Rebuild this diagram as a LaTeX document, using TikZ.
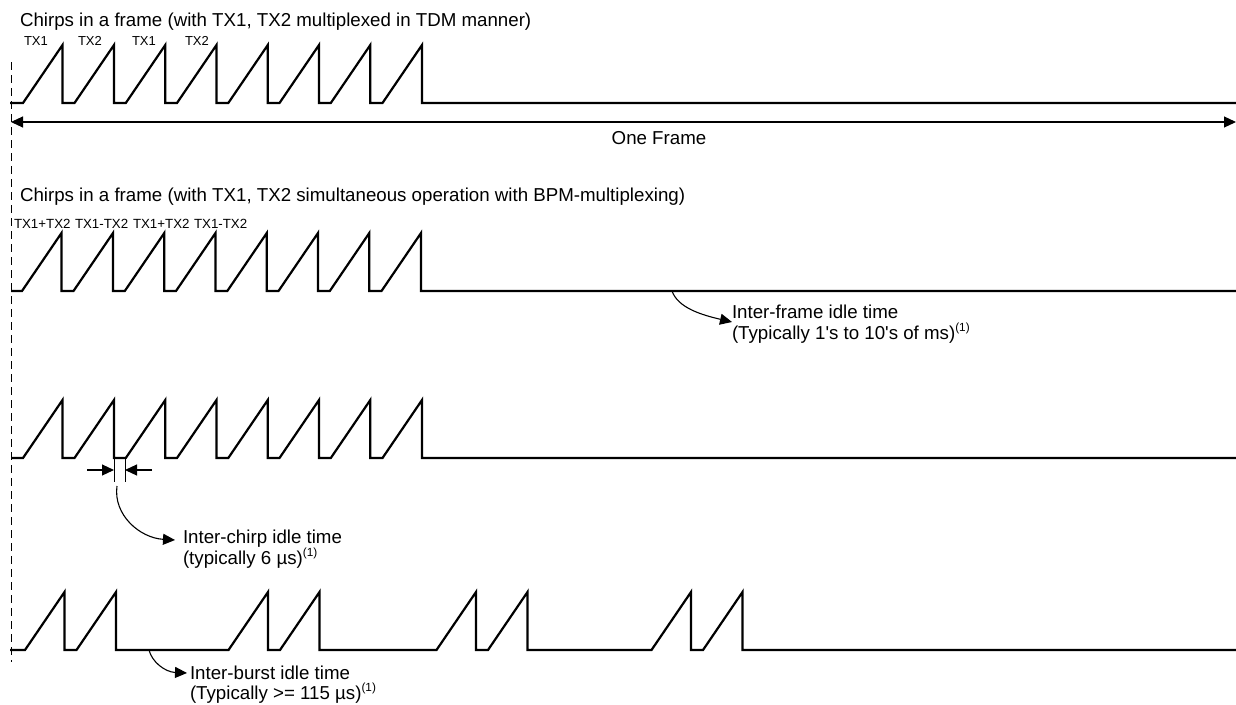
\documentclass[tikz,border=0pt]{standalone}
\usepackage{fontspec}
\newfontfamily\plainf{Liberation Sans}
\setmainfont{Liberation Sans}
\usetikzlibrary{arrows.meta}
\newcommand{\supone}{\raisebox{7.5pt}{\fontsize{11.8}{13}\selectfont (1)}}
\newcommand{\chirps}[4]{% start x, base y, top y, list of peak x
  \draw[wave] (#1,#2) foreach \p in {#4} { -- (\p-39.5,#2) -- (\p,#3) -- (\p,#2) } -- (1236,#2);
}
\tikzset{
  wave/.style={line width=2.2pt,line join=miter,line cap=butt},
  head/.style={-{Triangle[length=12pt,width=11pt]},line width=1.1pt},
  heads/.style={{Triangle[length=12pt,width=11pt]}-{Triangle[length=12pt,width=11pt]},line width=1.1pt},
  lbl/.style={anchor=base west,inner sep=0pt,outer sep=0pt,font=\plainf\fontsize{18.7}{22}\selectfont},
  tx/.style={anchor=base west,inner sep=0pt,outer sep=0pt,font=\plainf\fontsize{13}{15}\selectfont},
  txb/.style={anchor=base west,inner sep=0pt,outer sep=0pt,font=\plainf\fontsize{13.3}{15}\selectfont},
}
\begin{document}
\begin{tikzpicture}[x=1pt,y=-1pt]
\useasboundingbox (0,0) rectangle (1236,704);
% dashed time origin
\coordinate (dt) at (11,62);
\coordinate (db) at (11,662);
\draw[line width=1pt,dash pattern=on 7.5pt off 5.5pt] (dt) -- (db);
% titles
\node[lbl] (t1) at (20,26) {Chirps in a frame (with TX1, TX2 multiplexed in TDM manner)};
\node[tx] (a1) at (24,45) {TX1};
\node[tx] (a2) at (78,45) {TX2};
\node[tx] (a3) at (132,45) {TX1};
\node[tx] (a4) at (185,45) {TX2};
\node[lbl] (t2) at (20,201) {Chirps in a frame (with TX1, TX2 simultaneous operation with BPM-multiplexing)};
\node[txb] (b1) at (14,228) {TX1+TX2};
\node[txb] (b2) at (75,228) {TX1-TX2};
\node[txb] (b3) at (133,228) {TX1+TX2};
\node[txb] (b4) at (194,228) {TX1-TX2};
% waveforms
\chirps{10}{103}{45}{62.5,114,165.3,216.5,267.8,319,370.3,422}
\chirps{11}{291}{233}{61.5,113,164.3,215.5,266.8,318,369.3,421}
\chirps{12}{458}{400}{62.5,114,165.3,216.5,267.8,319,370.3,422}
\chirps{10}{650}{592}{64.5,116,268,319.5,476,527.5,691,742.5}
% one frame
\coordinate (fl) at (11,122);
\coordinate (fr) at (1236,122);
\draw[heads] (fl) -- (fr);
\node[lbl,anchor=base] (of) at (659,144) {One Frame};
% inter-frame
\coordinate (c1) at (672,291);
\node[lbl] (n1) at (732,318) {Inter-frame idle time};
\node[lbl] (n1b) at (732,339) {(Typically 1's to 10's of ms)\supone};
\draw[head] (c1) .. controls (678,308) and (702,315) .. ([yshift=-4pt]n1.base west);
% inter-chirp
\coordinate (tl) at (114,458);
\coordinate (tlb) at (114,482);
\coordinate (tr) at (125,458);
\coordinate (trb) at (125,482);
\draw[line width=1pt] (tl) -- (tlb);
\draw[line width=1pt] (tr) -- (trb);
\coordinate (al) at (87,470);
\coordinate (ar) at (152,470);
\coordinate (ale) at (114,470);
\coordinate (are) at (125,470);
\draw[head] (al) -- (ale);
\draw[head] (ar) -- (are);
\coordinate (c2) at (117,486);
\node[lbl] (n2) at (183,543) {Inter-chirp idle time};
\node[lbl] (n2b) at (183,564) {(typically 6 µs)\supone};
\draw[head] (c2) .. controls (113,515) and (140,538) .. ([xshift=-8pt,yshift=3pt]n2.base west);
% inter-burst
\coordinate (c3) at (149,650);
\node[lbl] (n3) at (190,679) {Inter-burst idle time};
\node[lbl] (n3b) at (190,699) {(Typically >= 115 µs)\supone};
\draw[head] (c3) .. controls (152,662) and (165,672) .. ([xshift=-3pt,yshift=6pt]n3.base west);
\end{tikzpicture}
\end{document}
